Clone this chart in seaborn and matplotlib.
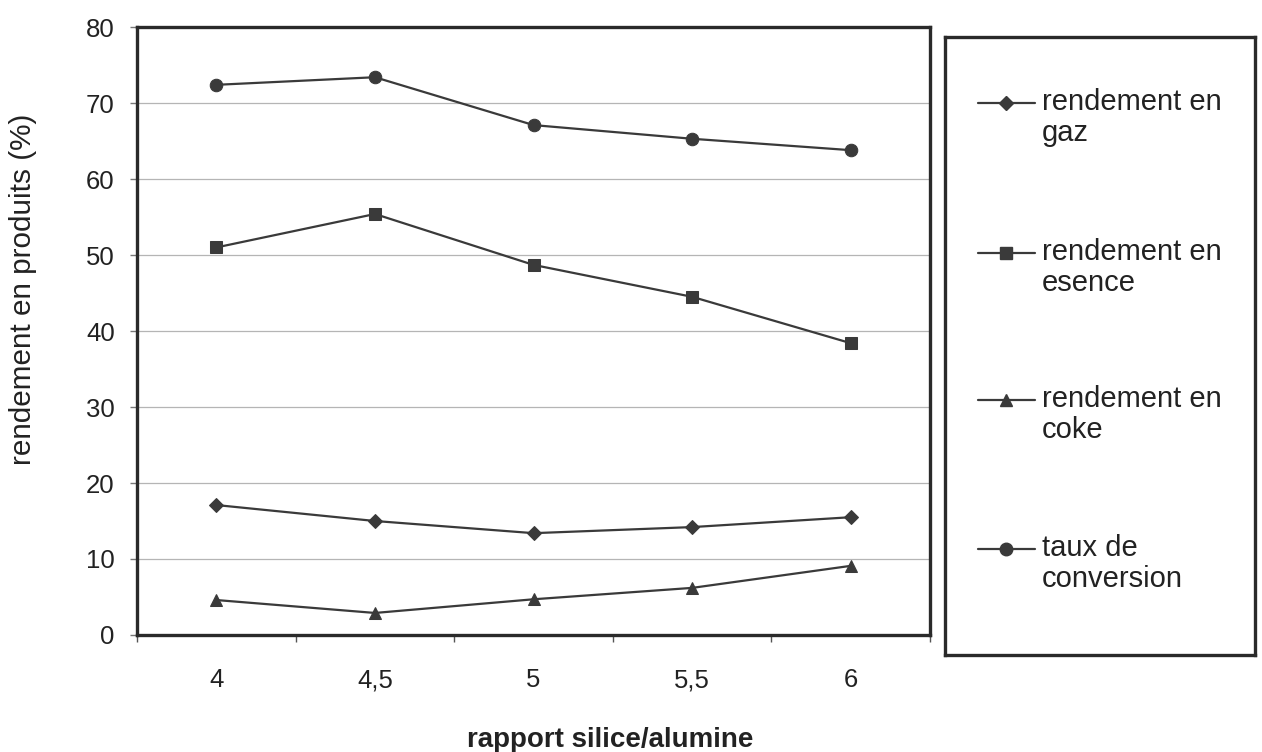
import matplotlib
matplotlib.use("Agg")
import matplotlib.pyplot as plt
import pandas as pd
import seaborn as sns

# values
ratios = ["4", "4,5", "5", "5,5", "6"]
gaz = [17.1, 15.0, 13.4, 14.2, 15.5]
essence = [51.0, 55.4, 48.7, 44.5, 38.4]
coke = [4.6, 2.9, 4.7, 6.2, 9.1]
conversion = [72.4, 73.4, 67.1, 65.3, 63.8]

series_names = [
    "rendement en\ngaz",
    "rendement en\nesence",
    "rendement en\ncoke",
    "taux de\nconversion",
]
series_values = [gaz, essence, coke, conversion]
series_markers = ["D", "s", "^", "o"]
marker_sizes = [7, 8, 9, 9]

rows = []
for name, vals in zip(series_names, series_values):
    for r, v in zip(ratios, vals):
        rows.append({"ratio": r, "value": v, "serie": name})
df = pd.DataFrame(rows)

sns.set_theme(style="white")
plt.rcParams["font.family"] = ["Liberation Sans", "DejaVu Sans"]

ink = "#3a3a3a"
fig = plt.figure(figsize=(12.62, 7.52), dpi=100)
ax = fig.add_axes([0.1086, 0.1556, 0.6284, 0.8084])

for name, mk, ms in zip(series_names, series_markers, marker_sizes):
    sub = df[df["serie"] == name]
    sns.lineplot(data=sub, x="ratio", y="value", ax=ax, color=ink,
                 marker=mk, markersize=ms, markeredgecolor=ink,
                 linewidth=1.6, sort=False)

ax.set_xlim(-0.5, len(ratios) - 0.5)
ax.set_ylim(0, 80)
ax.set_yticks(range(0, 81, 10))
ax.yaxis.grid(True, color="#b5b5b5", linewidth=0.9)
ax.xaxis.grid(False)

# tick marks sit between categories
ax.set_xticks([i - 0.5 for i in range(len(ratios) + 1)], minor=True)
ax.tick_params(axis="x", which="major", length=0, pad=24, labelsize=18.5, colors="#222222")
ax.tick_params(axis="x", which="minor", bottom=True, length=5, width=1, color="#555555")
ax.tick_params(axis="y", left=True, length=5, width=1, color="#777777", pad=11,
               labelsize=18.5, labelcolor="#222222")

for sp in ax.spines.values():
    sp.set_linewidth(2.4)
    sp.set_color("#2a2a2a")

ax.set_xlabel("rapport silice/alumine", fontsize=20, fontweight="bold",
              color="#222222")
ax.xaxis.set_label_coords(0.596, -0.151)
ax.set_ylabel("rendement en produits (%)", fontsize=21.4, color="#222222")
ax.yaxis.set_label_coords(-0.126, 0.569)

# legend drawn in its own framed box
lax = fig.add_axes([945 / 1262, 1 - 655 / 752, 310 / 1262, 618 / 752])
lax.set_xlim(0, 310)
lax.set_ylim(618, 0)
lax.set_xticks([])
lax.set_yticks([])
for sp in lax.spines.values():
    sp.set_linewidth(2.4)
    sp.set_color("#2a2a2a")

entry_y = [66, 216, 363, 512]
for name, mk, ms, yy in zip(series_names, series_markers, marker_sizes, entry_y):
    lax.plot([33, 90], [yy, yy], color=ink, linewidth=1.6)
    lax.plot([61], [yy], marker=mk, markersize=ms, color=ink)
    lax.text(97, yy - 15, name, fontsize=21, color="#222222", va="top",
             ha="left", linespacing=1.12)

fig.savefig("out.png", dpi=100)
